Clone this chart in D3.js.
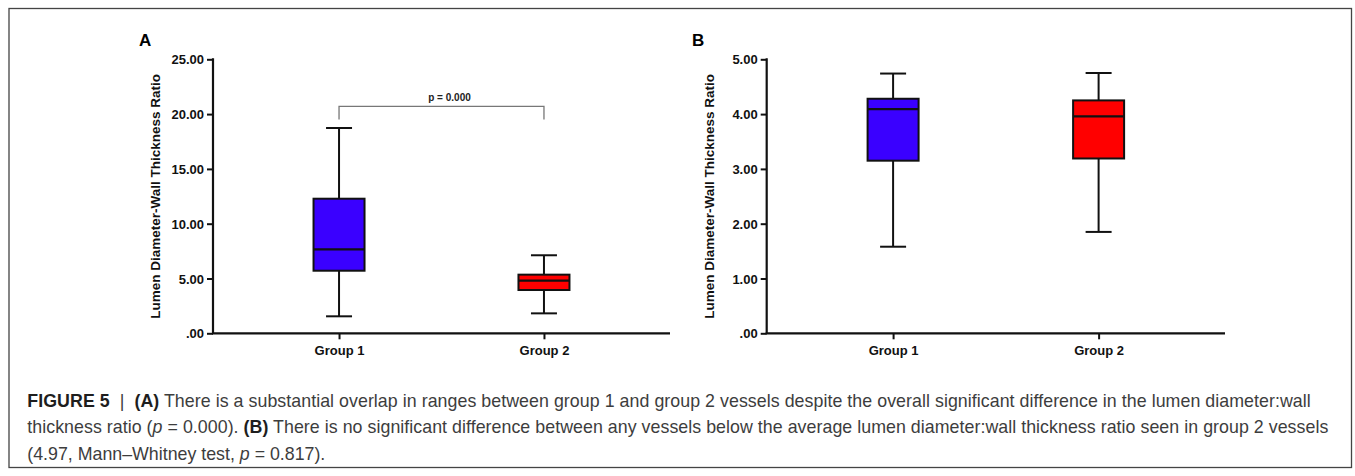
<!DOCTYPE html>
<html>
<head>
<meta charset="utf-8">
<script src="https://cdn.jsdelivr.net/npm/d3@7/dist/d3.min.js"></script>
<style>
  html, body { margin: 0; padding: 0; background: #fff; }
  svg { display: block; }
  text { font-family: "Liberation Sans", Arial, Helvetica, sans-serif; }
</style>
</head>
<body>
<svg id="chart" width="1355" height="476"></svg>
<script>
// ---- Data ----
const groups = ["Group 1", "Group 2"];
const colors = ["#3a00ff", "#ff0000"];

// Panel A: Lumen diameter-wall thickness ratio (all vessels)
const aMin    = [1.55, 1.82];
const aQ1     = [5.71, 3.95];
const aMedian = [7.66, 4.80];
const aQ3     = [12.28, 5.35];
const aMax    = [18.73, 7.12];
const aTicks  = [0, 5, 10, 15, 20, 25];

// Panel B: vessels below average ratio of group 2
const bMin    = [1.58, 1.85];
const bQ1     = [3.15, 3.19];
const bMedian = [4.09, 3.96];
const bQ3     = [4.28, 4.25];
const bMax    = [4.74, 4.75];
const bTicks  = [0, 1, 2, 3, 4, 5];

const yTitle = "Lumen Diameter-Wall Thickness Ratio";
const pLabel = "p = 0.000";

// ---- Drawing ----
const svg = d3.select("#chart");

// outer frame
svg.append("rect")
  .attr("x", 9).attr("y", 8.5)
  .attr("width", 1342.5).attr("height", 459)
  .attr("fill", "none").attr("stroke", "#444").attr("stroke-width", 1.3);

const fmt = v => v === 0 ? ".00" : v.toFixed(2);

function panel(opts) {
  const { x0, x1, letter, letterX, titleX, mins, q1s, meds, q3s, maxs, ticks } = opts;
  const yTop = 59.3, yBot = 333.3;
  const y = d3.scaleLinear().domain([ticks[0], ticks[ticks.length - 1]]).range([yBot, yTop]);
  const x = d3.scalePoint().domain(groups).range([x0, x1]).padding(0.615);
  const g = svg.append("g");

  // y axis
  const yAxis = d3.axisLeft(y).tickValues(ticks).tickFormat(fmt).tickSize(6).tickPadding(3);
  const ya = g.append("g").attr("transform", `translate(${x0},0)`).call(yAxis);
  ya.select(".domain").attr("stroke", "#111").attr("stroke-width", 2.2)
    .attr("d", `M0,${yTop - 1}V${yBot}`);
  ya.selectAll(".tick line").attr("stroke", "#111").attr("stroke-width", 2);
  ya.selectAll(".tick text").attr("fill", "#111")
    .style("font-size", "13px").style("font-weight", "bold")
    .attr("dy", "0.35em");

  // x axis
  const xAxis = d3.axisBottom(x).tickSize(6).tickPadding(6);
  const xa = g.append("g").attr("transform", `translate(0,${yBot})`).call(xAxis);
  xa.select(".domain").attr("stroke", "#111").attr("stroke-width", 2.2)
    .attr("d", `M${x0 - 1},0H${x1}`);
  xa.selectAll(".tick line").attr("stroke", "#111").attr("stroke-width", 2);
  xa.selectAll(".tick text").attr("fill", "#111")
    .style("font-size", "13px").style("font-weight", "bold");

  // y title
  g.append("text")
    .attr("transform", `translate(${titleX},${(yTop + yBot) / 2}) rotate(-90)`)
    .attr("text-anchor", "middle").attr("dy", "0.35em")
    .style("font-size", "13.5px").style("font-weight", "bold").attr("fill", "#111")
    .text(yTitle);

  // panel letter
  g.append("text").attr("x", letterX).attr("y", 45.7)
    .style("font-size", "17px").style("font-weight", "bold").attr("fill", "#000")
    .text(letter);

  const boxW = 51, capW = 26;
  groups.forEach((grp, i) => {
    const cx = x(grp);
    // whiskers
    g.append("line").attr("x1", cx).attr("x2", cx)
      .attr("y1", y(maxs[i])).attr("y2", y(q3s[i]))
      .attr("stroke", "#111").attr("stroke-width", 2);
    g.append("line").attr("x1", cx).attr("x2", cx)
      .attr("y1", y(q1s[i])).attr("y2", y(mins[i]))
      .attr("stroke", "#111").attr("stroke-width", 2);
    // caps
    [maxs[i], mins[i]].forEach(v => {
      g.append("line").attr("x1", cx - capW / 2).attr("x2", cx + capW / 2)
        .attr("y1", y(v)).attr("y2", y(v))
        .attr("stroke", "#111").attr("stroke-width", 2);
    });
    // box
    g.append("rect")
      .attr("x", cx - boxW / 2).attr("width", boxW)
      .attr("y", y(q3s[i])).attr("height", y(q1s[i]) - y(q3s[i]))
      .attr("fill", colors[i]).attr("stroke", "#111").attr("stroke-width", 2);
    // median
    g.append("line").attr("x1", cx - boxW / 2).attr("x2", cx + boxW / 2)
      .attr("y1", y(meds[i])).attr("y2", y(meds[i]))
      .attr("stroke", "#111").attr("stroke-width", 2.2);
  });
  return { x, y, g };
}

const A = panel({
  x0: 213, x1: 670, letter: "A", letterX: 139, titleX: 155,
  mins: aMin, q1s: aQ1, meds: aMedian, q3s: aQ3, maxs: aMax, ticks: aTicks
});
panel({
  x0: 766.7, x1: 1225, letter: "B", letterX: 692, titleX: 709,
  mins: bMin, q1s: bQ1, meds: bMedian, q3s: bQ3, maxs: bMax, ticks: bTicks
});

// significance bracket on panel A
{
  const xa = A.x(groups[0]), xb = A.x(groups[1]);
  const yb = A.y(20.7), yl = A.y(19.5);
  A.g.append("path")
    .attr("d", `M${xa},${yl}V${yb}H${xb}V${yl}`)
    .attr("fill", "none").attr("stroke", "#777").attr("stroke-width", 1.3);
  A.g.append("text")
    .attr("x", (xa + xb) / 2 + 8).attr("y", yb - 5)
    .attr("text-anchor", "middle")
    .style("font-size", "10px").style("font-weight", "bold").attr("fill", "#222")
    .text(pLabel);
}

// caption
const cap = svg.append("g").style("font-size", "17.8px").attr("fill", "#3d3d3d");
const lines = [
  [["b", "FIGURE 5"], ["n", "  |  "], ["b", "(A)"], ["n", " There is a substantial overlap in ranges between group 1 and group 2 vessels despite the overall significant difference in the lumen diameter:wall"]],
  [["n", "thickness ratio ("], ["i", "p"], ["n", " = 0.000). "], ["b", "(B)"], ["n", " There is no significant difference between any vessels below the average lumen diameter:wall thickness ratio seen in group 2 vessels"]],
  [["n", "(4.97, Mann\u2013Whitney test, "], ["i", "p"], ["n", " = 0.817)."]]
];
const baselines = [406.5, 433, 459.5];
const lineWidths = [1283.4, 1301, null];
lines.forEach((ln, k) => {
  const t = cap.append("text").attr("x", 27.3).attr("y", baselines[k]).attr("xml:space", "preserve");
  ln.forEach(([s, str]) => {
    const ts = t.append("tspan").text(str);
    if (s === "b") ts.style("font-weight", "bold").attr("fill", "#1e1e1e");
    if (s === "i") ts.style("font-style", "italic");
  });
  if (lineWidths[k]) t.attr("textLength", lineWidths[k]).attr("lengthAdjust", "spacing");
});
</script>
</body>
</html>
